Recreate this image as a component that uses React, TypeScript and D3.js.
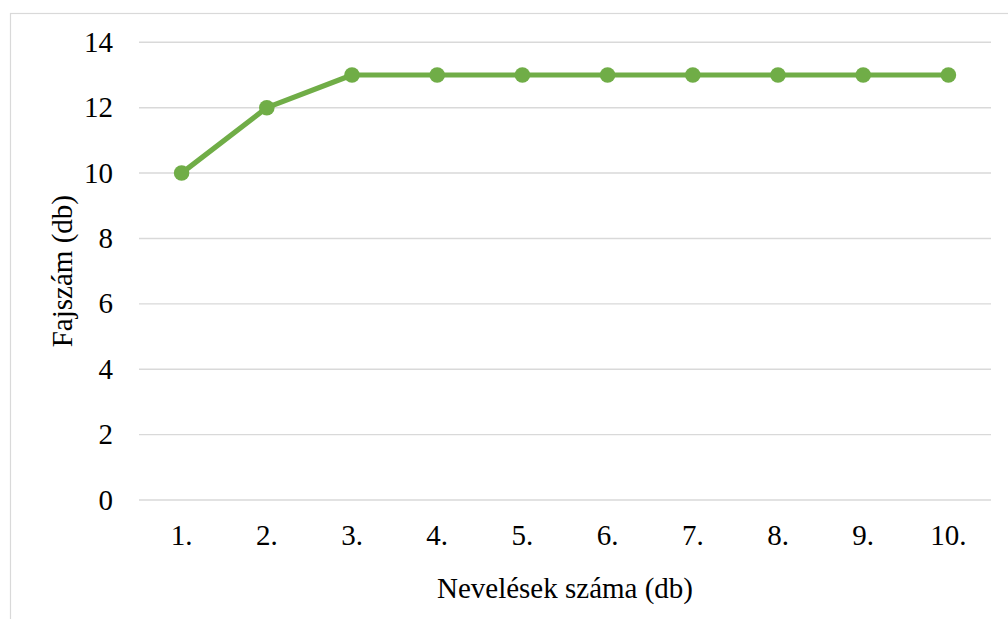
import React, { useEffect, useRef } from "react";
import * as d3 from "d3";

const categories = ["1.", "2.", "3.", "4.", "5.", "6.", "7.", "8.", "9.", "10."];
const values = [10, 12, 13, 13, 13, 13, 13, 13, 13, 13];
const yTicks = [0, 2, 4, 6, 8, 10, 12, 14];
const xTitle = "Nevelések száma (db)";
const yTitle = "Fajszám (db)";

const W = 1008;
const H = 619;
const FONT = "Liberation Serif";
const GREEN = "#70AD47";

export default function App() {
  const ref = useRef<SVGSVGElement>(null);

  useEffect(() => {
    const svg = d3.select(ref.current);
    svg.selectAll("*").remove();

    const left = 139, right = 991, top = 42.3, bottom = 500;
    const x = d3.scaleBand().domain(categories).range([left, right]).paddingInner(0).paddingOuter(0);
    const y = d3.scaleLinear().domain([0, 14]).range([bottom, top]);

    // chart border (top and left visible)
    svg.append("rect")
      .attr("x", 10.5).attr("y", 13.5)
      .attr("width", 1100).attr("height", 700)
      .attr("fill", "none").attr("stroke", "#D9D9D9").attr("stroke-width", 1.2);

    // gridlines
    svg.append("g").selectAll("line").data(yTicks).join("line")
      .attr("x1", left).attr("x2", right)
      .attr("y1", (d) => y(d)).attr("y2", (d) => y(d))
      .attr("stroke", "#D9D9D9").attr("stroke-width", 1.4);

    // y tick labels
    svg.append("g").selectAll("text").data(yTicks).join("text")
      .attr("x", 113).attr("y", (d) => y(d))
      .attr("dy", "0.33em")
      .attr("text-anchor", "end")
      .style("font-family", FONT).style("font-size", "29px").attr("fill", "#000")
      .text((d) => String(d));

    // x tick labels
    svg.append("g").selectAll("text").data(categories).join("text")
      .attr("x", (d) => (x(d) as number) + x.bandwidth() / 2).attr("y", 545)
      .attr("text-anchor", "middle")
      .style("font-family", FONT).style("font-size", "29px").attr("fill", "#000")
      .text((d) => d);

    // line
    const line = d3.line<number>()
      .x((_, i) => (x(categories[i]) as number) + x.bandwidth() / 2)
      .y((d) => y(d));
    svg.append("path").datum(values)
      .attr("d", line)
      .attr("fill", "none").attr("stroke", GREEN).attr("stroke-width", 5.2)
      .attr("stroke-linejoin", "round").attr("stroke-linecap", "round");

    svg.append("g").selectAll("circle").data(values).join("circle")
      .attr("cx", (_, i) => (x(categories[i]) as number) + x.bandwidth() / 2)
      .attr("cy", (d) => y(d))
      .attr("r", 7.8).attr("fill", GREEN);

    // axis titles
    svg.append("text")
      .attr("x", (left + right) / 2).attr("y", 598)
      .attr("text-anchor", "middle")
      .style("font-family", FONT).style("font-size", "29px").attr("fill", "#000")
      .text(xTitle);

    svg.append("text")
      .attr("transform", `translate(72, ${(top + bottom) / 2}) rotate(-90)`)
      .attr("text-anchor", "middle")
      .style("font-family", FONT).style("font-size", "29px").attr("fill", "#000")
      .text(yTitle);
  }, []);

  return (
    <svg
      ref={ref}
      width={W}
      height={H}
      style={{ position: "absolute", left: 0, top: 0, background: "#fff", display: "block" }}
    />
  );
}
